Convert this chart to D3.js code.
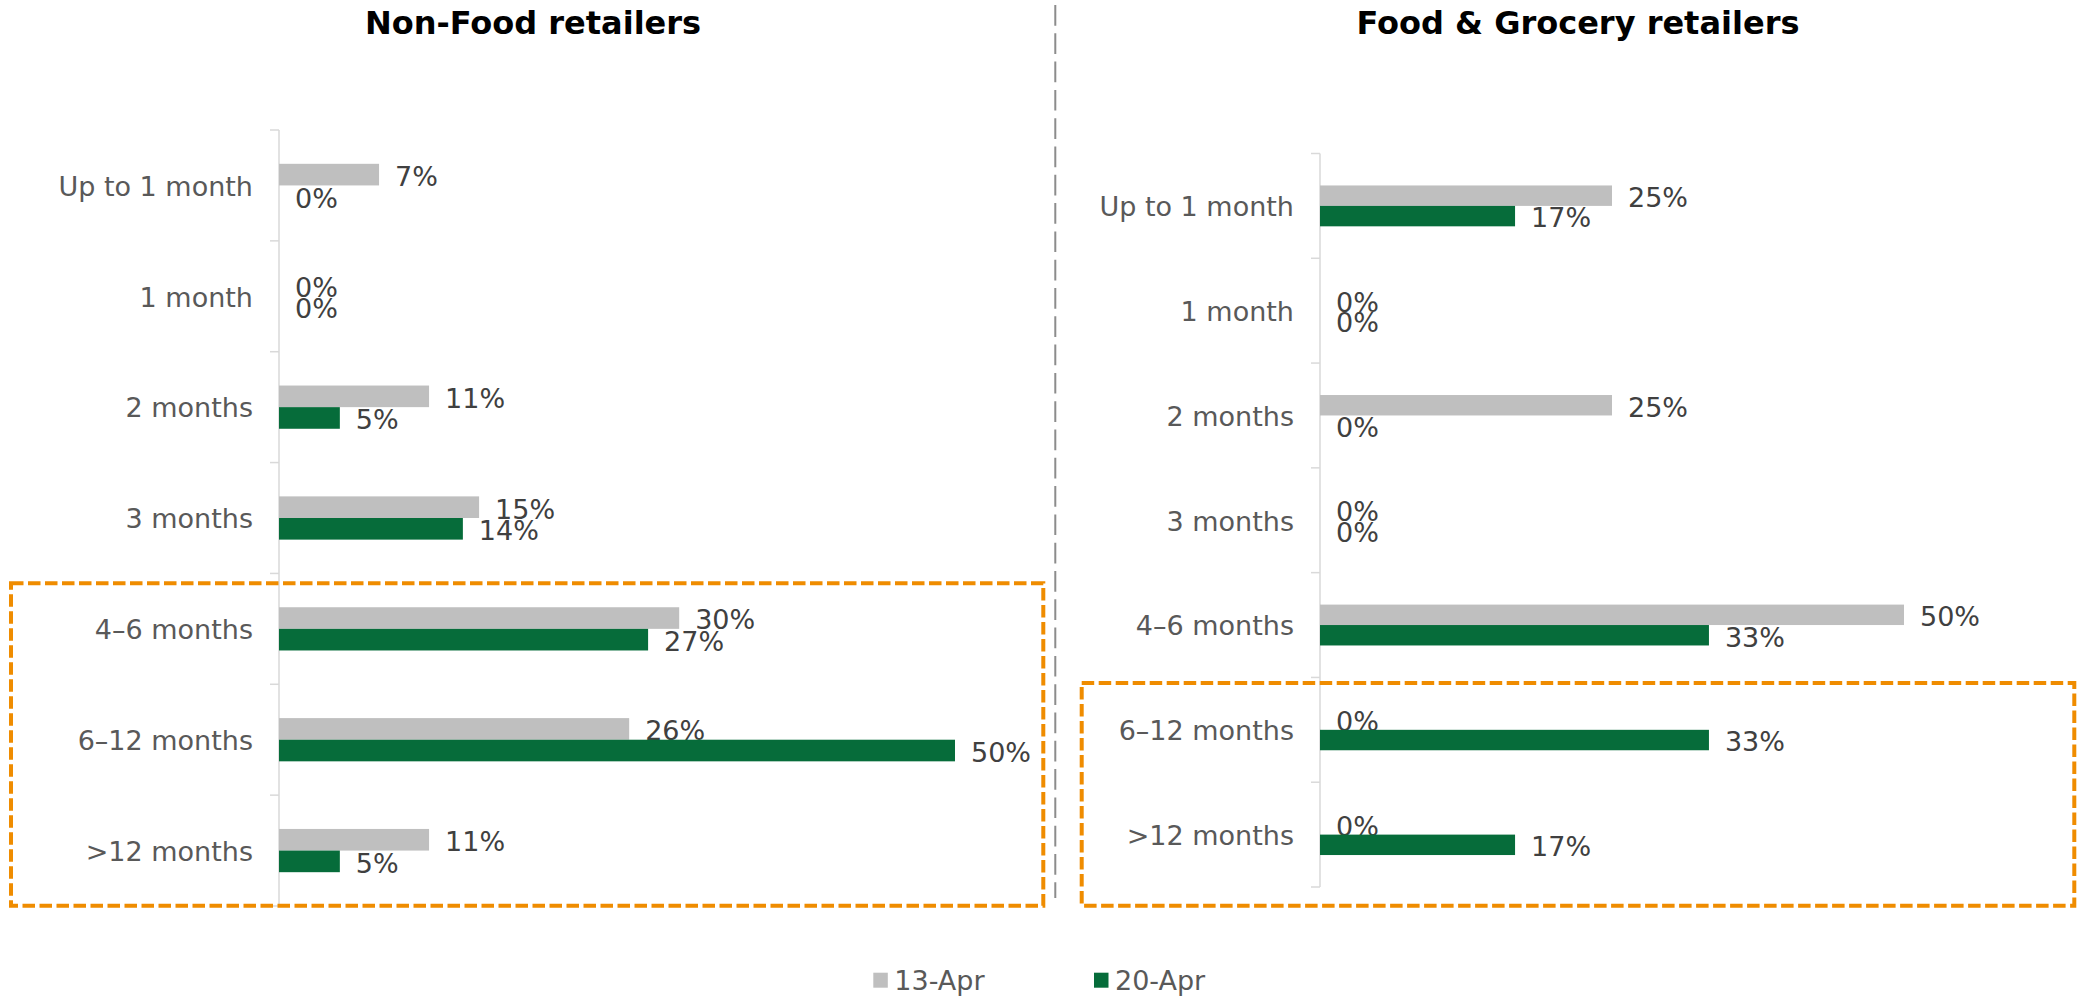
<!DOCTYPE html>
<html>
<head>
<meta charset="utf-8">
<script src="https://cdn.jsdelivr.net/npm/d3@7"></script>
<style>
  html, body { margin: 0; padding: 0; background: #ffffff; }
  svg { display: block; }
</style>
</head>
<body>
<svg id="chart" width="2085" height="997"></svg>
<script>
// ---------------- DATA ----------------
const categories = ["Up to 1 month", "1 month", "2 months", "3 months", "4\u20136 months", "6\u201312 months", ">12 months"];
const seriesNames = ["13-Apr", "20-Apr"];
const titles = ["Non-Food retailers", "Food & Grocery retailers"];
const nonFood13Apr = [7.4, 0, 11.1, 14.8, 29.6, 25.9, 11.1];
const nonFood20Apr = [0, 0, 4.5, 13.6, 27.3, 50, 4.5];
const food13Apr = [25, 0, 25, 0, 50, 0, 0];
const food20Apr = [16.7, 0, 0, 0, 33.3, 33.3, 16.7];
const axisMax = 50;

// ---------------- STYLE / LAYOUT ----------------
const colors = { "13-Apr": "#bfbfbf", "20-Apr": "#066c3a" };
const FONT = "'DejaVu Sans', Verdana, sans-serif";
const svg = d3.select("#chart");

const panels = [
  { title: titles[0], titleX: 533, x0: 279, x1: 955, yTop: 130, yBottom: 906, series: [nonFood13Apr, nonFood20Apr] },
  { title: titles[1], titleX: 1578, x0: 1320, x1: 1904, yTop: 153.5, yBottom: 887, series: [food13Apr, food20Apr] }
];

panels.forEach(p => {
  const g = svg.append("g");
  const x = d3.scaleLinear().domain([0, axisMax]).range([p.x0, p.x1]);
  const y = d3.scaleBand().domain(categories).range([p.yTop, p.yBottom]).paddingInner(0).paddingOuter(0);
  const bw = y.bandwidth();
  const ys = d3.scaleBand().domain(seriesNames).range([bw * 0.305, bw * 0.695]).padding(0);

  // title
  g.append("text")
    .attr("x", p.titleX).attr("y", 34)
    .attr("text-anchor", "middle")
    .attr("font-family", FONT).attr("font-weight", "bold").attr("font-size", 32)
    .attr("fill", "#000000")
    .text(p.title);

  // axis line + boundary ticks
  g.append("line")
    .attr("x1", x(0)).attr("x2", x(0))
    .attr("y1", y.range()[0]).attr("y2", y.range()[1])
    .attr("stroke", "#d9d9d9").attr("stroke-width", 1.5);
  const boundaries = categories.map(c => y(c)).concat([y.range()[1]]);
  g.selectAll("line.tick").data(boundaries).enter().append("line")
    .attr("class", "tick")
    .attr("x1", x(0) - 9).attr("x2", x(0))
    .attr("y1", d => d).attr("y2", d => d)
    .attr("stroke", "#d9d9d9").attr("stroke-width", 1.5);

  // category labels
  g.selectAll("text.cat").data(categories).enter().append("text")
    .attr("class", "cat")
    .attr("x", x(0) - 26)
    .attr("y", d => y(d) + bw / 2)
    .attr("dy", "0.38em")
    .attr("text-anchor", "end")
    .attr("font-family", FONT).attr("font-size", 27)
    .attr("fill", "#595959")
    .text(d => d);

  // bars + labels
  seriesNames.forEach((s, si) => {
    const vals = p.series[si];
    const rows = categories.map((c, i) => ({ c, v: vals[i] }));
    g.selectAll("rect.s" + si).data(rows).enter().append("rect")
      .attr("class", "s" + si)
      .attr("x", x(0))
      .attr("y", d => y(d.c) + ys(s))
      .attr("width", d => x(d.v) - x(0))
      .attr("height", ys.bandwidth())
      .attr("fill", colors[s]);
    g.selectAll("text.l" + si).data(rows).enter().append("text")
      .attr("class", "l" + si)
      .attr("x", d => x(d.v) + 16)
      .attr("y", d => y(d.c) + ys(s) + ys.bandwidth() / 2)
      .attr("dy", "0.42em")
      .attr("font-family", FONT).attr("font-size", 27)
      .attr("fill", "#404040")
      .text(d => Math.round(d.v) + "%");
  });
});

// divider (gray dashed)
svg.append("line")
  .attr("x1", 1055.3).attr("x2", 1055.3).attr("y1", 5).attr("y2", 898)
  .attr("stroke", "#8c8c8c").attr("stroke-width", 2)
  .attr("stroke-dasharray", "20.7,7.6");

// orange highlight boxes
const boxes = [
  { x: 11, y: 583.3, w: 1032.3, h: 322.4 },
  { x: 1081.7, y: 683, w: 992.6, h: 222.7 }
];
svg.selectAll("rect.box").data(boxes).enter().append("rect")
  .attr("class", "box")
  .attr("x", d => d.x).attr("y", d => d.y).attr("width", d => d.w).attr("height", d => d.h)
  .attr("fill", "none").attr("stroke", "#ef8c00").attr("stroke-width", 4)
  .attr("stroke-dasharray", "12.5,4.5");

// legend
const legendX = [873.3, 1094];
const lg = svg.selectAll("g.legend").data(seriesNames).enter().append("g")
  .attr("class", "legend")
  .attr("transform", (d, i) => `translate(${legendX[i]},0)`);
lg.append("rect").attr("x", 0).attr("y", 972.7).attr("width", 14.5).attr("height", 15)
  .attr("fill", d => colors[d]);
lg.append("text").attr("x", 21).attr("y", 990)
  .attr("font-family", FONT).attr("font-size", 27).attr("fill", "#595959")
  .text(d => d);
</script>
</body>
</html>
